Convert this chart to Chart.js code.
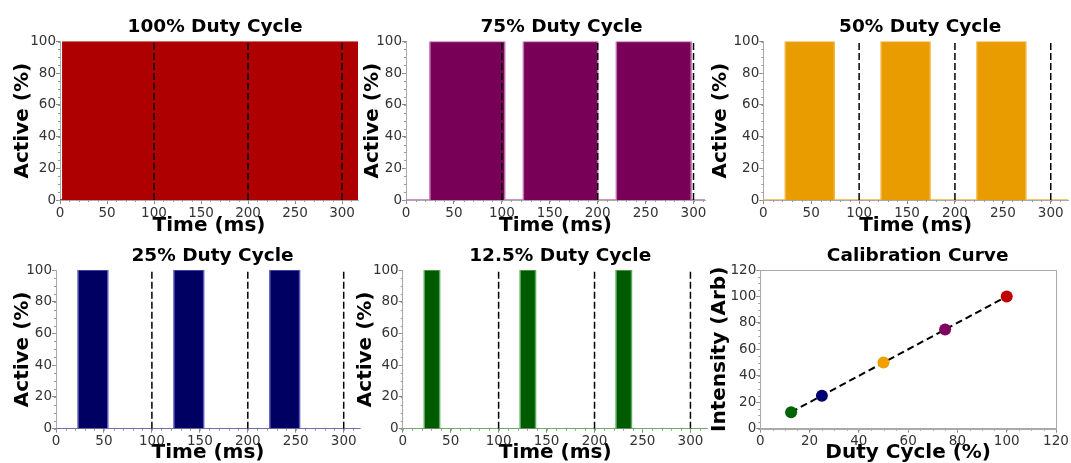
<!DOCTYPE html>
<html>
<head>
<meta charset="utf-8">
<script src="https://cdn.jsdelivr.net/npm/chart.js@4.4.0/dist/chart.umd.min.js"></script>
<style>
  body { margin: 0; background: #fff; }
  #wrap { position: relative; width: 1071px; height: 463px; overflow: hidden; }
  canvas { position: absolute; }
</style>
</head>
<body>
<div id="wrap">
  <canvas id="c100" width="362" height="240" style="left:0px;top:0px"></canvas>
  <canvas id="c75" width="351" height="240" style="left:358px;top:0px"></canvas>
  <canvas id="c50" width="366" height="240" style="left:705px;top:0px"></canvas>
  <canvas id="c25" width="362" height="230" style="left:0px;top:240px"></canvas>
  <canvas id="c12" width="361" height="230" style="left:350px;top:240px"></canvas>
  <canvas id="cal" width="366" height="230" style="left:705px;top:240px"></canvas>
</div>
<script>
// pulse on/off times (ms)
const pulses100 = [[3, 317]];
const pulses75 = [[25, 103], [122.5, 200], [219.5, 297.5]];
const pulses50 = [[23, 74], [123, 174], [223, 274]];
const pulses25 = [[23, 54], [123, 154], [223, 254]];
const pulses12 = [[22.5, 38.5], [122.5, 138.5], [222.5, 238.5]];
const timeAxisMax = [317, 312, 318, 317, 318];
const periodMarks = [100, 200, 300];

// calibration curve
const dutyCycle = [12.5, 25, 50, 75, 100];
const intensity = [12.5, 25, 50, 75, 100];

const colors = {
  red: "#ae0000", purple: "#780057", orange: "#e89c00", navy: "#000062", green: "#005a00"
};

Chart.defaults.font.family = "'DejaVu Sans', Verdana, sans-serif";

// short minor ticks outside the axes
const minorTicks = {
  id: "minorTicks",
  afterDraw(chart, args, opts) {
    const ctx = chart.ctx;
    ctx.save();
    ctx.strokeStyle = "#999";
    ctx.lineWidth = 1;
    ["x", "y"].forEach(id => {
      const s = chart.scales[id];
      const step = opts[id];
      if (!step) return;
      for (let v = s.min; v <= s.max + 1e-9; v += step) {
        const p = Math.round(s.getPixelForValue(v)) + 0.5;
        ctx.beginPath();
        if (id === "x") { ctx.moveTo(p, s.top); ctx.lineTo(p, s.top + 2); }
        else { ctx.moveTo(s.right, p); ctx.lineTo(s.right - 2, p); }
        ctx.stroke();
      }
    });
    ctx.restore();
  }
};

// center the panel title over the plot area instead of the canvas
const titleShift = {
  id: "titleShift",
  afterLayout(chart, args, opts) {
    const t = chart.titleBlock;
    if (!t) return;
    t.left = chart.chartArea.left + (opts.dx || 0);
    t.right = chart.chartArea.right;
  }
};

const frame = {
  id: "frame",
  afterDraw(chart, args, opts) {
    if (!opts.show) return;
    const a = chart.chartArea, ctx = chart.ctx;
    ctx.save();
    ctx.strokeStyle = "#aaa";
    ctx.lineWidth = 1;
    ctx.strokeRect(Math.round(a.left) + 0.5, Math.round(a.top) + 0.5, Math.round(a.right - a.left), Math.round(a.bottom - a.top));
    ctx.restore();
  }
};

function pulseTrace(pulses, tEnd) {
  const pts = [{ x: 0, y: 0 }];
  pulses.forEach(([on, off]) => {
    pts.push({ x: on, y: 0 }, { x: on, y: 100 }, { x: off, y: 100 }, { x: off, y: 0 });
  });
  pts.push({ x: tEnd, y: 0 });
  return pts;
}

function axisOptions(fit, xTitle, yTitle, xMax, xStep, yMax) {
  return {
    x: {
      type: "linear", min: 0, max: xMax,
      afterFit: s => { s.height = fit.xh; },
      ticks: { stepSize: xStep, includeBounds: false, color: "#333", font: { size: 13.5 }, padding: 1, maxRotation: 0, autoSkip: false },
      grid: { drawOnChartArea: false, tickLength: 4, color: "#888" },
      border: { color: "#aaa" },
      title: { display: true, text: xTitle, color: "#000", font: { size: 20, weight: "bold" }, padding: { top: 0, bottom: fit.xpb } }
    },
    y: {
      type: "linear", min: 0, max: yMax,
      afterFit: s => { s.width = fit.yw; },
      ticks: { stepSize: 20, color: "#333", font: { size: 13.5 }, padding: 0 },
      grid: { drawOnChartArea: false, tickLength: 4, color: "#888" },
      border: { color: "#aaa" },
      title: { display: true, text: yTitle, color: "#000", font: { size: 20, weight: "bold" }, padding: { top: fit.ypt, bottom: 0 } }
    }
  };
}

function timePanel(id, titleText, fill, edge, pulses, tMax, fit) {
  new Chart(document.getElementById(id), {
    type: "line",
    data: {
      datasets: [
        ...periodMarks.map(t => ({
          data: [{ x: t, y: 0 }, { x: t, y: 100 }],
          borderColor: "#000", borderWidth: 1.5, borderDash: [7, 3],
          pointRadius: 0, fill: false, order: 0
        })),
        {
          data: pulseTrace(pulses, tMax),
          borderColor: edge, borderWidth: 1.5, backgroundColor: fill,
          fill: "origin", pointRadius: 0, order: 1
        }
      ]
    },
    options: {
      responsive: false,
      animation: false,
      layout: { padding: { left: 0, right: fit.padR, top: 0, bottom: 0 } },
      plugins: {
        legend: { display: false },
        tooltip: { enabled: false },
        title: {
          display: true, text: titleText, color: "#000",
          font: { size: 18.5, weight: "bold" },
          padding: { top: fit.tTop, bottom: fit.tBottom }
        },
        minorTicks: { x: 10, y: 5 },
        titleShift: { dx: fit.dx },
        frame: { show: false }
      },
      scales: axisOptions(fit, "Time (ms)", "Active (%)", tMax, 50, 100)
    },
    plugins: [minorTicks, titleShift, frame]
  });
}

const row1 = { tTop: 15.9, tBottom: 3.4, xh: 40, xpb: 2 };
const row2 = { tTop: 4.9, tBottom: 2.9, xh: 41.3, xpb: 5 };

timePanel("c100", "100% Duty Cycle", colors.red, colors.red, pulses100, timeAxisMax[0],
  { ...row1, yw: 60, padR: 4, ypt: 11, dx: 12 });
timePanel("c75", "75% Duty Cycle", colors.purple, "#c070b0", pulses75, timeAxisMax[1],
  { ...row1, yw: 48, padR: 4, ypt: 2.5, dx: 12 });
timePanel("c50", "50% Duty Cycle", colors.orange, "#f2b53a", pulses50, timeAxisMax[2],
  { ...row1, yw: 58.3, padR: 3, ypt: 3.5, dx: 9 });
timePanel("c25", "25% Duty Cycle", colors.navy, "#5a5ab8", pulses25, timeAxisMax[3],
  { ...row2, yw: 56, padR: 2, ypt: 11, dx: 9 });
timePanel("c12", "12.5% Duty Cycle", colors.green, "#5aa85a", pulses12, timeAxisMax[4],
  { ...row2, yw: 52.7, padR: 3.3, ypt: 3.5, dx: 10 });

// calibration curve
const calPoints = dutyCycle.map((d, i) => ({ x: d, y: intensity[i] }));
const pointColors = ["#006400", "#00006e", "#f0a000", "#800060", "#c00000"];
const calFit = { ...row2, yw: 55.3, padR: 15, ypt: 3, dx: 19 };

new Chart(document.getElementById("cal"), {
  type: "scatter",
  data: {
    datasets: [
      {
        data: calPoints, showLine: false, pointRadius: 6, pointHoverRadius: 6,
        pointBackgroundColor: pointColors, pointBorderWidth: 0, order: 0
      },
      {
        data: calPoints, showLine: true, borderColor: "#000", borderWidth: 2,
        borderDash: [7, 4], pointRadius: 0, order: 1
      }
    ]
  },
  options: {
    responsive: false,
    animation: false,
    layout: { padding: { left: 0, right: calFit.padR, top: 0, bottom: 0 } },
    plugins: {
      legend: { display: false },
      tooltip: { enabled: false },
      title: {
        display: true, text: "Calibration Curve", color: "#000",
        font: { size: 18.5, weight: "bold" },
        padding: { top: calFit.tTop, bottom: calFit.tBottom }
      },
      minorTicks: { x: 5, y: 5 },
      titleShift: { dx: calFit.dx },
      frame: { show: true }
    },
    scales: axisOptions(calFit, "Duty Cycle (%)", "Intensity (Arb)", 120, 20, 120)
  },
  plugins: [minorTicks, titleShift, frame]
});
</script>
</body>
</html>
